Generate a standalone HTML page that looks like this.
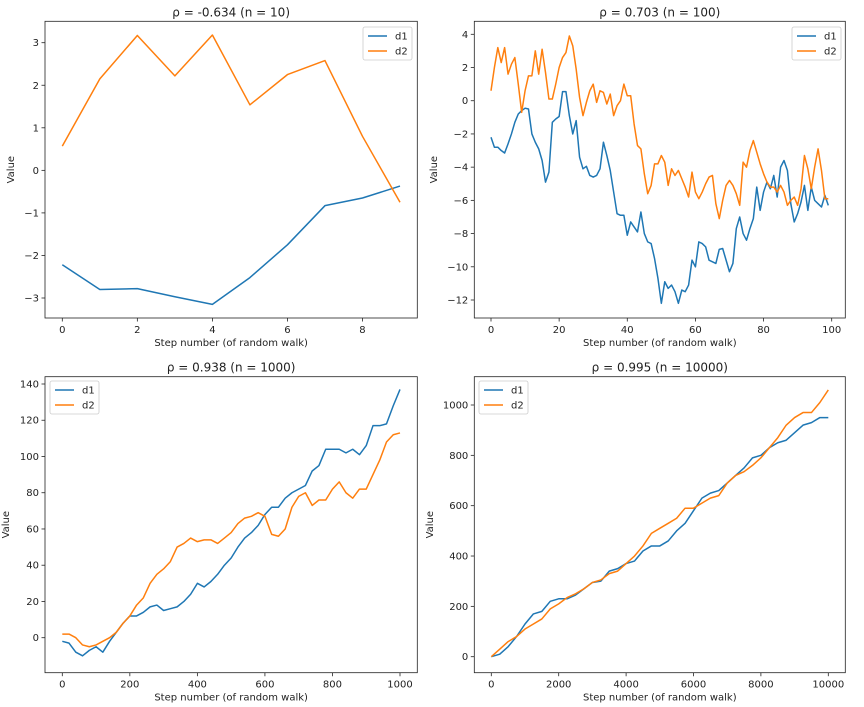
<!DOCTYPE html>
<html><head><meta charset="utf-8"><style>
html,body{margin:0;padding:0;background:#fff;width:864px;height:707px;overflow:hidden}
svg text{font-family:"DejaVu Sans","Liberation Sans",sans-serif;fill:#222}
</style></head><body>
<svg id="fig" width="864" height="707" xmlns="http://www.w3.org/2000/svg"></svg>
<script>
// ---- data ----
const p1Steps=[0,1,2,3,4,5,6,7,8,9];
const p1D1=[-2.22,-2.8,-2.78,-2.97,-3.15,-2.52,-1.75,-0.83,-0.65,-0.37];
const p1D2=[0.57,2.15,3.17,2.22,3.18,1.54,2.25,2.58,0.8,-0.75];
const p2D1=[-2.2,-2.8,-2.8,-3.0,-3.15,-2.6,-2.0,-1.3,-0.8,-0.6,-0.45,-0.5,-2.0,-2.5,-2.9,-3.6,-4.9,-4.3,-1.3,-1.1,-0.95,0.55,0.55,-0.9,-2.0,-1.2,-3.4,-4.1,-3.95,-4.5,-4.6,-4.5,-4.1,-2.5,-3.3,-4.2,-5.5,-6.8,-6.9,-6.9,-8.1,-7.3,-7.6,-7.9,-6.7,-8.0,-8.5,-8.6,-9.5,-10.7,-12.2,-10.9,-11.3,-11.1,-11.5,-12.2,-11.4,-11.5,-11.1,-9.6,-10.0,-8.5,-8.6,-8.8,-9.6,-9.7,-9.8,-8.95,-8.9,-9.6,-10.3,-9.8,-7.7,-7.0,-8.0,-8.4,-7.7,-7.1,-5.2,-6.6,-5.5,-4.9,-5.3,-4.5,-5.8,-4.0,-3.6,-4.2,-6.2,-7.3,-6.8,-6.1,-5.1,-6.6,-5.2,-6.0,-6.2,-6.4,-5.7,-6.3];
const p2D2=[0.6,2.0,3.2,2.3,3.2,1.6,2.2,2.6,1.0,-0.7,0.6,1.5,1.5,3.0,1.6,3.1,1.7,0.1,0.1,1.0,2.0,2.6,2.9,3.9,3.3,1.9,0.2,-0.9,-0.1,0.6,1.0,-0.1,0.6,0.5,-0.2,0.4,-0.9,-0.3,0.0,1.0,0.3,0.3,-1.4,-2.7,-2.9,-4.4,-5.6,-5.1,-3.8,-3.8,-3.3,-3.7,-5.1,-4.1,-4.5,-4.2,-4.7,-5.2,-5.8,-4.3,-5.5,-5.9,-5.5,-5.0,-4.6,-4.5,-6.2,-7.1,-6.0,-5.1,-4.8,-5.1,-5.6,-6.3,-3.7,-4.0,-3.0,-2.4,-3.1,-3.8,-4.4,-4.9,-5.2,-5.2,-5.5,-5.1,-5.5,-6.3,-6.0,-5.8,-6.3,-5.3,-3.3,-4.1,-5.3,-4.0,-2.9,-4.2,-5.9,-5.9];
const p3Steps=[0,20,40,60,80,100,120,140,160,180,200,220,240,260,280,300,320,340,360,380,400,420,440,460,480,500,520,540,560,580,600,620,640,660,680,700,720,740,760,780,800,820,840,860,880,900,920,940,960,980,1000];
const p3D1=[-2,-3,-8,-10,-7,-5,-8,-2,3,8,12,12,14,17,18,15,16,17,20,24,30,28,31,35,40,44,50,55,58,62,68,72,72,77,80,82,84,92,95,104,104,104,102,104,101,106,117,117,118,128,137];
const p3D2=[2,2,0,-4,-5,-4,-2,0,3,8,12,18,22,30,35,38,42,50,52,55,53,54,54,52,55,58,63,66,67,69,67,57,56,60,72,78,80,73,76,76,82,86,80,77,82,82,90,98,108,112,113];
const p4Steps=[0,250,500,750,1000,1250,1500,1750,2000,2250,2500,2750,3000,3250,3500,3750,4000,4250,4500,4750,5000,5250,5500,5750,6000,6250,6500,6750,7000,7250,7500,7750,8000,8250,8500,8750,9000,9250,9500,9750,10000];
const p4D1=[0,10,40,80,130,170,180,220,230,230,245,270,295,300,340,350,370,380,420,440,440,460,500,530,580,630,650,660,690,720,750,790,800,830,850,860,890,920,930,950,950];
const p4D2=[0,30,60,80,110,130,150,190,210,235,250,270,295,305,330,340,370,400,440,490,510,530,550,590,590,610,630,640,690,720,735,760,790,830,870,920,950,970,970,1010,1060];
const p1XTicks=[0,2,4,6,8], p1YTicks=[-3,-2,-1,0,1,2,3];
const p2XTicks=[0,20,40,60,80,100], p2YTicks=[-12,-10,-8,-6,-4,-2,0,2,4];
const p3XTicks=[0,200,400,600,800,1000], p3YTicks=[0,20,40,60,80,100,120,140];
const p4XTicks=[0,2000,4000,6000,8000,10000], p4YTicks=[0,200,400,600,800,1000];

const NS="http://www.w3.org/2000/svg";
const fig=document.getElementById('fig');
function mk(tag,attrs,parent,txt){const e=document.createElementNS(NS,tag);for(const k in attrs)e.setAttribute(k,attrs[k]);if(txt!==undefined)e.textContent=txt;(parent||fig).appendChild(e);return e;}
function fmt(v){return v<0?'\u2212'+Math.abs(v):String(v);}

function panel(o){
  const g=mk('g',{});
  
  
  const sx=v=>o.px0+(v-o.x0)*(o.px1-o.px0)/(o.x1-o.x0);
  const sy=v=>o.py0+(v-o.y0)*(o.py1-o.py0)/(o.y1-o.y0);
  const series=[[o.d1,'#1f77b4','d1'],[o.d2,'#ff7f0e','d2']];
  const clip='c'+o.name;
  const cp=mk('clipPath',{id:clip},g);mk('rect',{x:o.L,y:o.T,width:o.R-o.L,height:o.B-o.T},cp);
  series.forEach(s=>{
    const pts=s[0].map((v,i)=>sx(o.xs[i]).toFixed(2)+','+sy(v).toFixed(2)).join(' ');
    const l=mk('polyline',{points:pts,fill:'none',stroke:s[1],'stroke-width':1.5,'stroke-linejoin':'round','clip-path':'url(#'+clip+')'},g);
    
    
  });
  const fr=mk('rect',{x:o.L,y:o.T,width:o.R-o.L,height:o.B-o.T,fill:'none',stroke:'#222','stroke-width':0.8},g);
  
  
  o.xt.forEach(t=>{const x=sx(t);mk('line',{x1:x,x2:x,y1:o.B,y2:o.B+3.5,stroke:'#222','stroke-width':0.8},g);
    const tx=mk('text',{x:x,y:o.B+15,'font-size':10,'text-anchor':'middle'},g,fmt(t));
    
    });
  o.yt.forEach(t=>{const y=sy(t);mk('line',{x1:o.L-3.5,x2:o.L,y1:y,y2:y,stroke:'#222','stroke-width':0.8},g);
    const tx=mk('text',{x:o.L-6,y:y+3.5,'font-size':10,'text-anchor':'end'},g,fmt(t));
    
    });
  const xl=mk('text',{x:(o.L+o.R)/2,y:o.B+28,'font-size':10,'text-anchor':'middle'},g,'Step number (of random walk)');
  
  
  const yl=mk('text',{x:o.ylx,y:(o.T+o.B)/2,'font-size':10,'text-anchor':'middle',transform:'rotate(-90 '+o.ylx+' '+(o.T+o.B)/2+')'},g,'Value');
  
  
  const ti=mk('text',{x:(o.L+o.R)/2,y:o.T-5,'font-size':12,'text-anchor':'middle'},g,o.title);
  
  
  const lg=mk('g',{},g);
  
  
  mk('rect',{x:o.lx,y:o.ly,width:49,height:33,rx:2,fill:'#fff','fill-opacity':0.8,stroke:'#ccc','stroke-width':0.8},lg);
  series.forEach((s,i)=>{
    const e=mk('g',{},lg);
    
    
    const y=o.ly+9+i*15;
    mk('line',{x1:o.lx+5,x2:o.lx+24,y1:y,y2:y,stroke:s[1],'stroke-width':1.5},e);
    mk('text',{x:o.lx+32,y:y+3.5,'font-size':10},e,s[2]);
  });
}
panel({name:'panel-n10',title:'\u03c1 = -0.634 (n = 10)',L:45,R:417.3,T:21.3,B:318,xs:p1Steps,d1:p1D1,d2:p1D2,
  x0:0,x1:9,px0:62.3,px1:400,y0:3,y1:-3,py0:42.7,py1:298,xt:p1XTicks,yt:p1YTicks,ylx:14,lx:363,ly:27});
panel({name:'panel-n100',title:'\u03c1 = 0.703 (n = 100)',L:474.3,R:845.3,T:21.3,B:318,xs:p2D1.map((_,i)=>i),d1:p2D1,d2:p2D2,
  x0:0,x1:100,px0:491,px1:831.7,y0:4,y1:-12,py0:34.3,py1:300,xt:p2XTicks,yt:p2YTicks,ylx:437,lx:792,ly:27});
panel({name:'panel-n1000',title:'\u03c1 = 0.938 (n = 1000)',L:45,R:417.3,T:376.7,B:672.7,xs:p3Steps,d1:p3D1,d2:p3D2,
  x0:0,x1:1000,px0:62.3,px1:400,y0:140,y1:0,py0:384,py1:637.7,xt:p3XTicks,yt:p3YTicks,ylx:9,lx:50,ly:381});
panel({name:'panel-n10000',title:'\u03c1 = 0.995 (n = 10000)',L:474.3,R:845.3,T:376.7,B:672.7,xs:p4Steps,d1:p4D1,d2:p4D2,
  x0:0,x1:10000,px0:491.3,px1:828.3,y0:1000,y1:0,py0:405,py1:656.7,xt:p4XTicks,yt:p4YTicks,ylx:433,lx:479,ly:381});
</script>
</body></html>
